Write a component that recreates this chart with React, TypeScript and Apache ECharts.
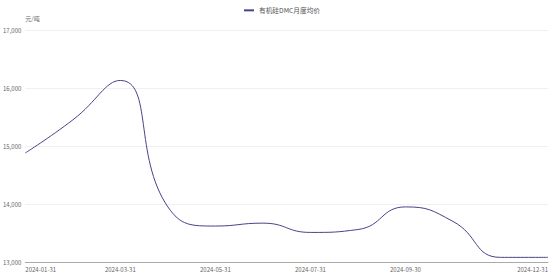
import React, { useEffect, useRef } from "react";
import * as echarts from "echarts";

const categories = [
  "2024-01-31", "2024-02-29", "2024-03-31", "2024-04-30", "2024-05-31", "2024-06-30",
  "2024-07-31", "2024-08-31", "2024-09-30", "2024-10-31", "2024-11-30", "2024-12-31",
];
const seriesName = "有机硅DMC月度均价";
const prices = [14880, 15450, 16130, 13950, 13620, 13670, 13510, 13560, 13950, 13700, 13080, 13080];
const shownLabelIdx = [0, 2, 4, 6, 8, 11];
const yTicks = { min: 13000, max: 17000, interval: 1000 };

export default function App() {
  const ref = useRef<HTMLDivElement>(null);
  useEffect(() => {
    const chart = echarts.init(ref.current!, undefined, { renderer: "svg" });
    chart.setOption({
      animation: false,
      textStyle: { fontFamily: "'Noto Sans CJK SC', 'Noto Sans', sans-serif" },
      legend: {
        top: 2,
        left: 238,
        itemWidth: 10,
        itemHeight: 1,
        itemGap: 4,
        textStyle: { fontSize: 6.7, color: "#555" },
        data: [{ name: seriesName }],
      },
      grid: { left: 25, right: 5, top: 30, bottom: 15, containLabel: false },
      xAxis: {
        type: "category",
        data: categories,
        boundaryGap: false,
        axisLine: { lineStyle: { color: "#aaa" } },
        axisTick: { show: false },
        axisLabel: {
          fontSize: 6,
          color: "#666",
          margin: 4,
          interval: (i: number) => shownLabelIdx.includes(i),
          alignMinLabel: "left",
          alignMaxLabel: "right",
          showMaxLabel: true,
        },
      },
      yAxis: {
        type: "value",
        min: yTicks.min,
        max: yTicks.max,
        interval: yTicks.interval,
        name: "元/吨",
        nameGap: 9,
        nameTextStyle: { fontSize: 6, color: "#666", align: "left" },
        axisLine: { show: false },
        axisTick: { show: false },
        splitLine: { lineStyle: { color: "#f0f0f0" } },
        axisLabel: {
          fontSize: 6,
          color: "#666",
          margin: 4,
          formatter: (v: number) => v.toLocaleString("en-US"),
        },
      },
      series: [
        {
          name: seriesName,
          type: "line",
          data: prices,
          smooth: true,
          symbol: "none",
          lineStyle: { color: "#45438a", width: 1 },
          itemStyle: { color: "#45438a" },
        },
      ],
    });
    return () => chart.dispose();
  }, []);
  return (
    <div
      ref={ref}
      style={{ position: "absolute", left: 0, top: 0, width: 553, height: 277, background: "#fff" }}
    />
  );
}
